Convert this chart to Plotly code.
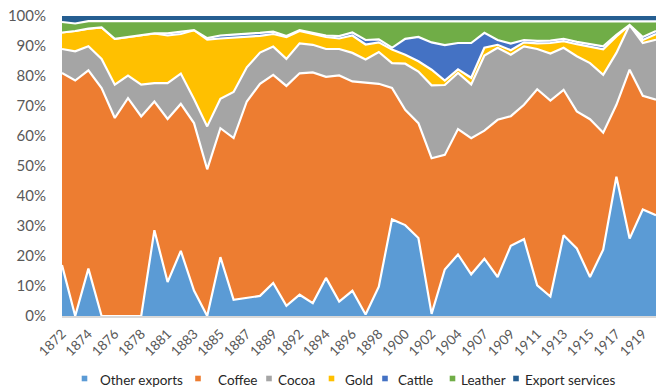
import plotly.graph_objects as go

years = ["1872", "1873", "1874", "1875", "1876", "1877", "1878", "1880", "1881", "1882",
         "1883", "1884", "1885", "1886", "1887", "1888", "1889", "1891", "1892", "1893",
         "1894", "1895", "1896", "1897", "1898", "1899", "1900", "1901", "1902", "1903",
         "1904", "1906", "1907", "1908", "1909", "1910", "1911", "1912", "1913", "1914",
         "1915", "1916", "1917", "1918", "1919", "1920"]

other_exports = [17.0, 0.0, 15.8, 0.0, 0.0, 0.0, 0.0, 28.6, 11.3, 21.7,
                 8.5, 0.0, 19.6, 5.4, 6.1, 6.7, 11.0, 3.4, 7.1, 4.3,
                 12.7, 4.8, 8.4, 0.5, 9.8, 32.2, 30.3, 26.0, 0.7, 15.5,
                 20.5, 13.9, 19.1, 13.0, 23.4, 25.6, 10.2, 6.5, 26.9, 22.5,
                 13.0, 22.1, 46.4, 25.8, 35.5, 33.6]
coffee = [64.0, 78.5, 66.1, 76.0, 66.0, 72.6, 66.5, 42.9, 54.4, 49.0,
          55.8, 48.9, 43.0, 53.9, 65.4, 70.7, 69.4, 73.3, 73.8, 76.9,
          67.0, 75.4, 69.8, 77.3, 67.6, 43.8, 38.4, 38.3, 51.9, 38.2,
          41.8, 45.4, 42.7, 52.4, 43.2, 44.8, 65.4, 65.3, 48.5, 45.7,
          52.6, 39.0, 24.0, 56.3, 37.9, 38.5]
cocoa = [8.0, 9.7, 8.0, 9.7, 11.1, 7.5, 10.6, 6.1, 11.9, 10.1,
         8.0, 14.3, 9.8, 15.4, 11.4, 10.4, 9.4, 9.0, 10.0, 9.2,
         9.3, 8.8, 9.5, 7.7, 10.6, 8.3, 15.4, 17.2, 24.3, 23.3,
         18.7, 17.9, 25.0, 24.0, 20.5, 19.5, 13.4, 15.7, 14.0, 18.4,
         18.7, 19.3, 17.3, 14.9, 17.6, 20.0]
gold = [5.5, 6.8, 5.9, 10.5, 15.3, 12.9, 16.5, 16.6, 15.9, 13.2,
        23.0, 28.9, 20.1, 18.1, 10.1, 5.6, 4.2, 7.3, 4.1, 3.6,
        4.0, 3.5, 5.8, 5.0, 3.2, 4.5, 3.0, 3.4, 5.2, 1.5,
        1.2, 2.2, 2.6, 1.0, 1.5, 1.3, 1.9, 3.5, 2.2, 4.0,
        5.5, 8.5, 5.5, 0.0, 1.0, 1.9]
cattle = [0.0, 0.0, 0.0, 0.0, 0.0, 0.0, 0.0, 0.0, 0.7, 0.8,
          0.0, 0.5, 1.0, 1.0, 1.0, 1.0, 0.8, 0.3, 0.3, 0.5,
          0.5, 0.8, 1.0, 1.5, 1.0, 0.6, 5.3, 8.1, 9.1, 11.8,
          8.8, 11.6, 5.0, 1.6, 2.2, 0.8, 0.8, 0.8, 0.8, 0.8,
          0.8, 1.0, 0.5, 0.0, 1.0, 1.0]
leather = [3.5, 2.5, 2.5, 2.1, 5.8, 5.2, 4.6, 4.0, 4.0, 3.4,
           2.9, 5.6, 4.7, 4.4, 4.2, 3.8, 3.4, 4.9, 2.9, 3.7,
           4.7, 4.9, 3.7, 6.2, 6.0, 8.8, 5.8, 5.2, 7.0, 7.9,
           7.2, 7.2, 3.8, 6.2, 7.4, 6.2, 6.5, 6.4, 5.8, 6.8,
           7.6, 8.3, 4.5, 1.2, 5.2, 3.2]
export_services = [2.0, 2.5, 1.7, 1.7, 1.8, 1.8, 1.8, 1.8, 1.8, 1.8,
                   1.8, 1.8, 1.8, 1.8, 1.8, 1.8, 1.8, 1.8, 1.8, 1.8,
                   1.8, 1.8, 1.8, 1.8, 1.8, 1.8, 1.8, 1.8, 1.8, 1.8,
                   1.8, 1.8, 1.8, 1.8, 1.8, 1.8, 1.8, 1.8, 1.8, 1.8,
                   1.8, 1.8, 1.8, 1.8, 1.8, 1.8]

series_names = ["Other exports", "Coffee", "Cocoa", "Gold", "Cattle", "Leather", "Export services"]
series_values = [other_exports, coffee, cocoa, gold, cattle, leather, export_services]
series_colors = ["#5B9BD5", "#ED7D31", "#A5A5A5", "#FFC000", "#4472C4", "#70AD47", "#255E91"]

y_ticks = [0, 10, 20, 30, 40, 50, 60, 70, 80, 90, 100]
y_ticktext = [f"{v}%" for v in y_ticks]
x_tickvals = years[::2]

fig = go.Figure()
for name, vals, col in zip(series_names, series_values, series_colors):
    lw = 0 if name == "Export services" else 2.2
    fig.add_trace(go.Scatter(
        x=years, y=vals, name=name, mode="lines",
        stackgroup="one", groupnorm="percent",
        line=dict(color="white", width=lw),
        fillcolor=col, showlegend=False, hoverinfo="x+y+name",
    ))

# plot-area geometry (pixels) used for the hand-made legend
L, R, T, B = 62, 656, 16, 316
W, H = R - L, B - T

def px_x(p):
    return (p - L) / W

def px_y(p):
    return (B - p) / H

legend_marker_px = [84.5, 198, 269, 331.5, 385, 452.5, 516]
legend_text_px = [98, 216, 276, 343, 396, 459, 523]
shapes, annotations = [], []
for name, col, mx, tx in zip(series_names, series_colors, legend_marker_px, legend_text_px):
    shapes.append(dict(type="rect", xref="paper", yref="paper",
                       x0=px_x(mx - 2.8), x1=px_x(mx + 2.8),
                       y0=px_y(381.3), y1=px_y(375.7),
                       fillcolor=col, line=dict(width=0)))
    annotations.append(dict(text=name, xref="paper", yref="paper",
                            x=px_x(tx), y=px_y(379.5), xanchor="left", yanchor="middle",
                            showarrow=False, font=dict(size=13.5, color="#262626")))

fig.update_layout(
    width=669, height=392,
    margin=dict(l=L, r=669 - R, t=T, b=392 - B),
    plot_bgcolor="white", paper_bgcolor="white",
    font=dict(family="Lato, 'Open Sans', sans-serif", color="#595959"),
    showlegend=False,
    shapes=shapes, annotations=annotations,
    xaxis=dict(type="category", range=[0, len(years) - 1],
               tickmode="array", tickvals=x_tickvals, ticktext=x_tickvals,
               tickangle=-45, tickfont=dict(size=13.5, color="#595959"),
               showgrid=False, zeroline=False, automargin=False,
               showline=True, linecolor="#D9D9D9", linewidth=1.5,
               ticks="outside", ticklen=3, tickcolor="rgba(0,0,0,0)"),
    yaxis=dict(range=[0, 100], tickmode="array", tickvals=y_ticks, ticktext=y_ticktext,
               tickfont=dict(size=15, color="#595959"), automargin=False,
               showgrid=False, zeroline=False, showline=False,
               ticks="outside", ticklen=12, tickcolor="rgba(0,0,0,0)"),
)

fig.write_html(
    "out.html",
    config={"displayModeBar": False},
    post_script="document.body.style.margin='0';document.body.style.padding='0';",
)
